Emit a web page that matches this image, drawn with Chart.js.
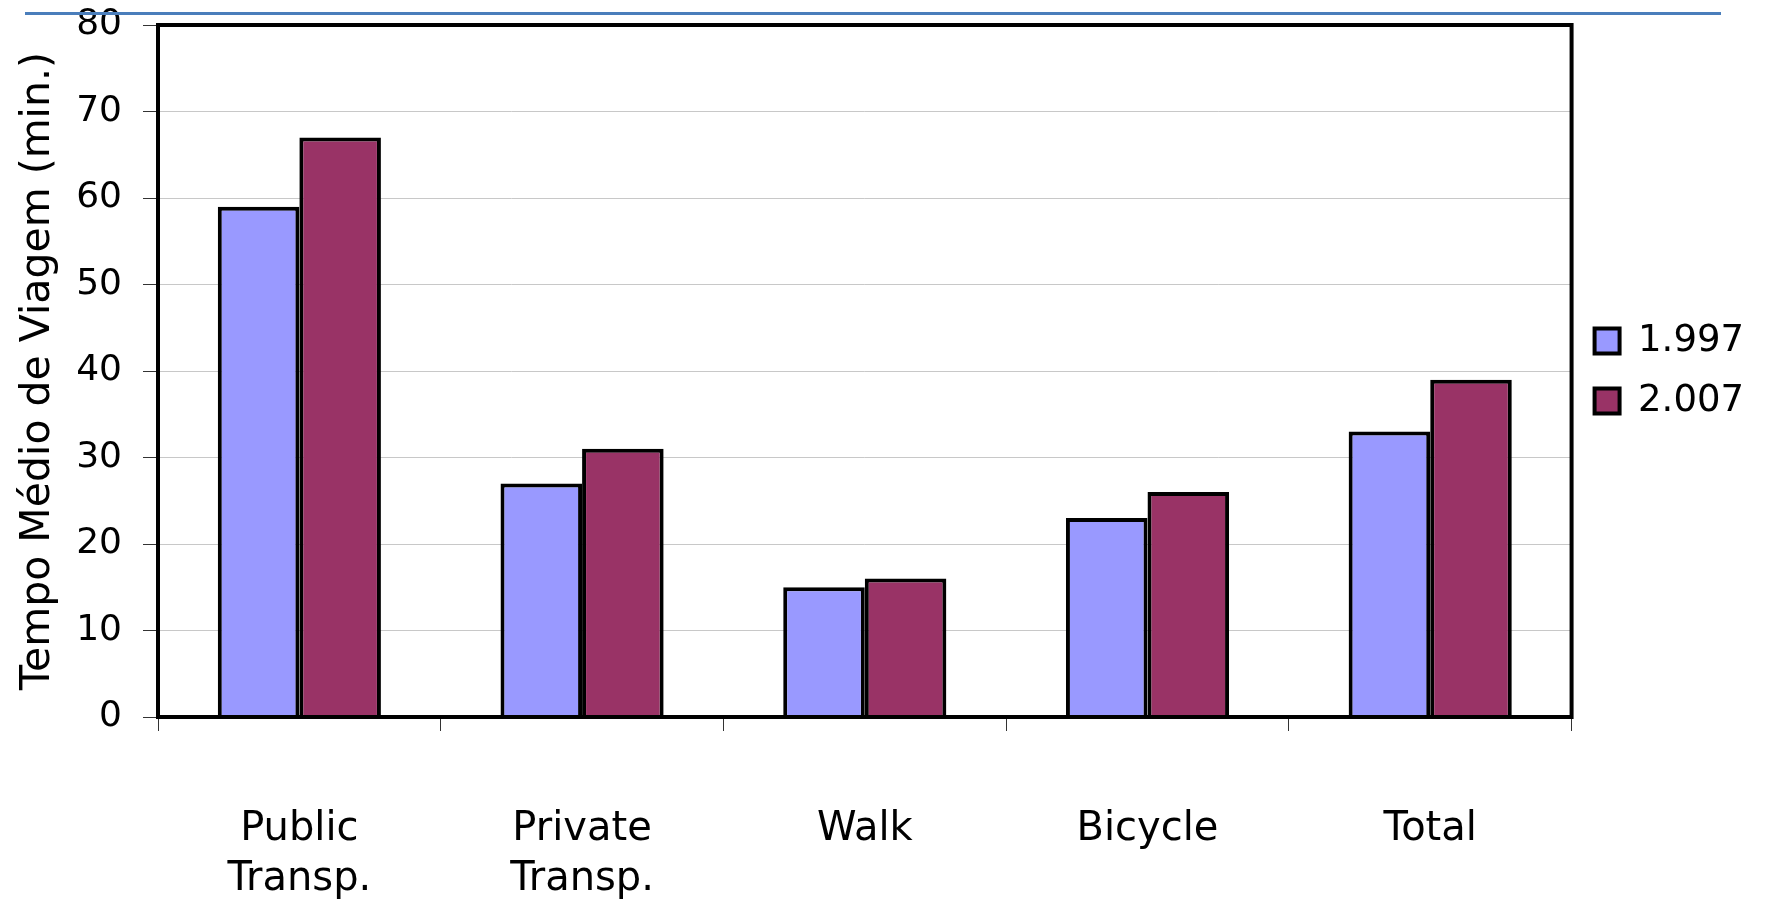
<!DOCTYPE html>
<html>
<head>
<meta charset="utf-8">
<script src="https://cdn.jsdelivr.net/npm/chart.js@4.4.1/dist/chart.umd.min.js"></script>
<style>
  html, body { margin: 0; padding: 0; background: #fff; }
  #wrap { width: 1771px; height: 906px; }
</style>
</head>
<body>
<div id="wrap"><canvas id="myChart" width="1771" height="906"></canvas></div>
<script>
const categories = [['Public', 'Transp.'], ['Private', 'Transp.'], 'Walk', 'Bicycle', 'Total'];
const seriesNames = ['1.997', '2.007'];
const values1997 = [59, 27, 15, 23, 33];
const values2007 = [67, 31, 16, 26, 39];
const yTicks = [0, 10, 20, 30, 40, 50, 60, 70, 80];
const yTitle = 'Tempo Médio de Viagem (min.)';

const FONT = 'DejaVu Sans, Verdana, sans-serif';

// black frame round the plot area, like the old excel chart
const frameBox = {
  id: 'frameBox',
  afterDatasetsDraw(chart) {
    const a = chart.chartArea;
    const ctx = chart.ctx;
    ctx.save();
    ctx.strokeStyle = '#000';
    ctx.lineWidth = 4;
    ctx.strokeRect(a.left, a.top, a.right - a.left, a.bottom - a.top);
    ctx.restore();
  }
};

// slide header rule over the top
const headerRule = {
  id: 'headerRule',
  afterDraw(chart) {
    const ctx = chart.ctx;
    ctx.save();
    ctx.strokeStyle = '#4a7ebb';
    ctx.lineWidth = 3;
    ctx.beginPath();
    ctx.moveTo(25, 13.5);
    ctx.lineTo(1721, 13.5);
    ctx.stroke();
    ctx.restore();
  }
};

const config = {
  type: 'bar',
  data: {
    labels: categories,
    datasets: [{
      label: seriesNames[0],
      data: values1997,
      backgroundColor: '#9999ff',
      borderColor: '#000',
      borderWidth: 4,
      barPercentage: 1,
      categoryPercentage: 0.577
    }, {
      label: seriesNames[1],
      data: values2007,
      backgroundColor: '#993366',
      borderColor: '#000',
      borderWidth: 4,
      barPercentage: 1,
      categoryPercentage: 0.577
    }]
  },
  options: {
    responsive: false,
    animation: false,
    layout: { padding: { left: 10, top: 0, right: 17, bottom: 0 } },
    plugins: {
      tooltip: { enabled: false },
      legend: {
        position: 'right',
        fullSize: false,
        labels: {
          color: '#000',
          font: { family: FONT, size: 37 },
          boxWidth: 25,
          boxHeight: 25,
          padding: 23
        }
      }
    },
    scales: {
      x: {
        grid: { drawOnChartArea: false, drawTicks: true, tickLength: 14, tickColor: '#333', tickWidth: 1, offset: true },
        border: { display: false },
        ticks: { color: '#000', font: { family: FONT, size: 40, lineHeight: 1.25 }, padding: 74, maxRotation: 0, autoSkip: false },
        afterFit(scale) { scale.height = 189; }
      },
      y: {
        min: 0,
        max: 80,
        afterBuildTicks(scale) { scale.ticks = yTicks.map(v => ({ value: v })); },
        grid: { color: '#c8c8c8', lineWidth: 1, tickLength: 15, tickColor: '#333', tickWidth: 1 },
        border: { display: false },
        ticks: { color: '#000', font: { family: FONT, size: 36 }, padding: 21 },
        title: { display: true, text: yTitle, color: '#000', font: { family: FONT, size: 41 }, padding: { top: 4, bottom: 4 } },
        afterFit(scale) {
          scale.width = 148;
          scale.paddingTop = 25;
        }
      }
    }
  },
  plugins: [frameBox, headerRule]
};

const newChart = new Chart(document.getElementById('myChart'), config);
</script>
</body>
</html>
